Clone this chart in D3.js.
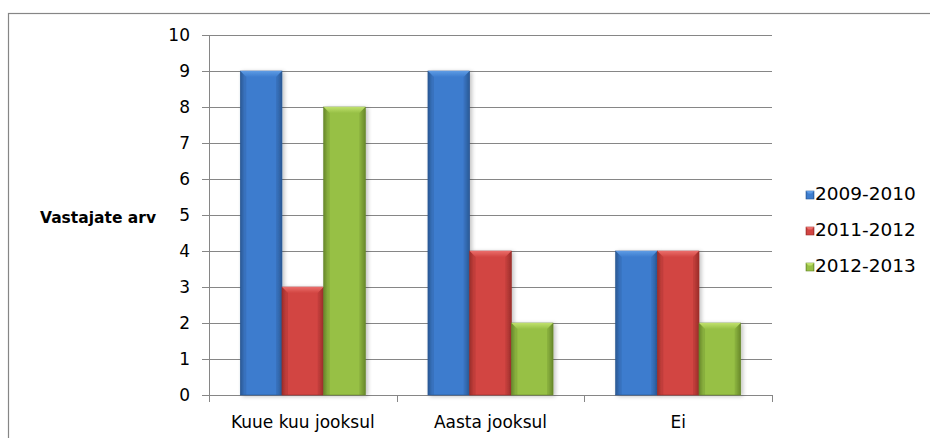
<!DOCTYPE html>
<html>
<head>
<meta charset="utf-8">
<script src="https://cdn.jsdelivr.net/npm/d3@7"></script>
<style>
  html, body { margin: 0; padding: 0; background: #fff; }
  svg { display: block; font-family: "DejaVu Sans", sans-serif; }
</style>
</head>
<body>
<div id="chart"></div>
<script>
const categories = ['Kuue kuu jooksul', 'Aasta jooksul', 'Ei'];
const seriesNames = ['2009-2010', '2011-2012', '2012-2013'];
const values2009 = [9, 9, 4];
const values2011 = [3, 4, 4];
const values2012 = [8, 2, 2];
const yTicks = [0, 1, 2, 3, 4, 5, 6, 7, 8, 9, 10];
const yTitle = 'Vastajate arv';

const seriesValues = [values2009, values2011, values2012];

// colours: edge, body, bevel highlight
const palette = [
  { dark: '#2a5894', mid: '#3d7cce', light: '#5e9be4' },
  { dark: '#9c2e2b', mid: '#d24542', light: '#ea6e6a' },
  { dark: '#68882c', mid: '#97c045', light: '#bfe06c' }
];

const width = 930, height = 438;
const margin = { left: 209, right: 158, top: 35, bottom: 43 };
const plotW = width - margin.left - margin.right;
const plotH = height - margin.top - margin.bottom;

const svg = d3.select('#chart').append('svg')
  .attr('width', width)
  .attr('height', height);

const defs = svg.append('defs');
palette.forEach((c, i) => {
  const g = defs.append('linearGradient')
    .attr('id', 'grad' + i)
    .attr('x1', '0%').attr('x2', '100%').attr('y1', '0%').attr('y2', '0%');
  g.append('stop').attr('offset', '0%').attr('stop-color', c.dark);
  g.append('stop').attr('offset', '10%').attr('stop-color', c.mid);
  g.append('stop').attr('offset', '88%').attr('stop-color', c.mid);
  g.append('stop').attr('offset', '100%').attr('stop-color', c.dark);
  const t = defs.append('linearGradient')
    .attr('id', 'top' + i)
    .attr('x1', '0%').attr('x2', '0%').attr('y1', '0%').attr('y2', '100%');
  t.append('stop').attr('offset', '0%').attr('stop-color', c.light);
  t.append('stop').attr('offset', '100%').attr('stop-color', c.mid);
});

const shadow = defs.append('filter').attr('id', 'shadow')
  .attr('x', '-20%').attr('y', '-10%').attr('width', '150%').attr('height', '120%');
shadow.append('feGaussianBlur').attr('in', 'SourceAlpha').attr('stdDeviation', 2);
shadow.append('feOffset').attr('dx', 2).attr('dy', 1).attr('result', 'b');
shadow.append('feComponentTransfer').append('feFuncA').attr('type', 'linear').attr('slope', 0.25);
const merge = shadow.append('feMerge');
merge.append('feMergeNode');
merge.append('feMergeNode').attr('in', 'SourceGraphic');

// outer frame
svg.append('rect')
  .attr('x', 8.5).attr('y', 13.5)
  .attr('width', width + 10).attr('height', height + 10)
  .attr('fill', 'none').attr('stroke', '#868686').attr('stroke-width', 1.2);

const g = svg.append('g').attr('transform', `translate(${margin.left},${margin.top})`);

const x0 = d3.scaleBand().domain(categories).range([0, plotW]).paddingInner(0).paddingOuter(0);
const x1 = d3.scaleBand().domain(seriesNames).range([0, x0.bandwidth()]).paddingInner(0).paddingOuter(0.75);
const y = d3.scaleLinear().domain([0, 10]).range([plotH, 0]);

// gridlines
g.append('g').selectAll('line').data(yTicks.filter(d => d > 0)).join('line')
  .attr('x1', 0).attr('x2', plotW)
  .attr('y1', d => Math.round(y(d)) + 0.5).attr('y2', d => Math.round(y(d)) + 0.5)
  .attr('stroke', '#868686').attr('stroke-width', 1);

// y axis
const yAxis = g.append('g')
  .call(d3.axisLeft(y).tickValues(yTicks).tickSize(7).tickPadding(12).tickFormat(d3.format('d')));
yAxis.select('.domain').attr('stroke', '#868686');
yAxis.selectAll('.tick line').attr('stroke', '#868686');
yAxis.selectAll('.tick text').attr('font-size', 17).attr('fill', '#000')
  .attr('font-family', '"DejaVu Sans", sans-serif');

// x axis
const xAxis = g.append('g').attr('transform', `translate(0,${plotH})`)
  .call(d3.axisBottom(x0).tickSize(0).tickPadding(21));
xAxis.select('.domain').attr('stroke', '#868686');
xAxis.selectAll('.tick text').attr('font-size', 17).attr('fill', '#000')
  .attr('font-family', '"DejaVu Sans", sans-serif');
// category separators
g.append('g').selectAll('line').data(d3.range(categories.length + 1)).join('line')
  .attr('x1', i => Math.round(i * x0.bandwidth()) + 0.5)
  .attr('x2', i => Math.round(i * x0.bandwidth()) + 0.5)
  .attr('y1', plotH).attr('y2', plotH + 7)
  .attr('stroke', '#868686');

// bars
const groups = g.append('g').selectAll('g').data(categories).join('g')
  .attr('transform', d => `translate(${x0(d)},0)`);

groups.each(function (cat, ci) {
  const grp = d3.select(this);
  seriesNames.forEach((s, si) => {
    const v = seriesValues[si][ci];
    const bx = x1(s), bw = x1.bandwidth();
    const by = y(v), bh = y(0) - y(v);
    const bar = grp.append('g').attr('filter', 'url(#shadow)');
    bar.append('rect')
      .attr('x', bx).attr('y', by).attr('width', bw).attr('height', bh)
      .attr('fill', `url(#grad${si})`)
      .attr('stroke', palette[si].dark).attr('stroke-width', 0.6);
    // bevel on top edge
    const bev = 6;
    bar.append('path')
      .attr('d', `M${bx},${by} L${bx + bw},${by} L${bx + bw - bev},${by + bev} L${bx + bev},${by + bev} Z`)
      .attr('fill', `url(#top${si})`);
    bar.append('path')
      .attr('d', `M${bx},${by} L${bx + bev},${by + bev} L${bx + bev},${by + bh} L${bx},${by + bh} Z`)
      .attr('fill', palette[si].dark).attr('opacity', 0.3);
    bar.append('path')
      .attr('d', `M${bx + bw},${by} L${bx + bw - bev},${by + bev} L${bx + bw - bev},${by + bh} L${bx + bw},${by + bh} Z`)
      .attr('fill', palette[si].dark).attr('opacity', 0.3);
  });
});

// y title
svg.append('text')
  .attr('x', 40).attr('y', 223)
  .attr('font-size', 15.5).attr('font-weight', 'bold')
  .attr('fill', '#000')
  .text(yTitle);

// legend
const legend = svg.append('g').attr('transform', 'translate(806,191)');
seriesNames.forEach((s, i) => {
  const lg = legend.append('g').attr('transform', `translate(0,${i * 36})`);
  lg.append('rect').attr('x', 0).attr('y', 0).attr('width', 8).attr('height', 8)
    .attr('fill', `url(#grad${i})`).attr('stroke', palette[i].dark).attr('stroke-width', 0.6);
  lg.append('path').attr('d', 'M0,0 L8,0 L5.5,2.5 L2.5,2.5 Z').attr('fill', palette[i].light);
  lg.append('text').attr('x', 9).attr('y', 8.5)
    .attr('font-size', 18.5).attr('fill', '#000')
    .text(s);
});
</script>
</body>
</html>
